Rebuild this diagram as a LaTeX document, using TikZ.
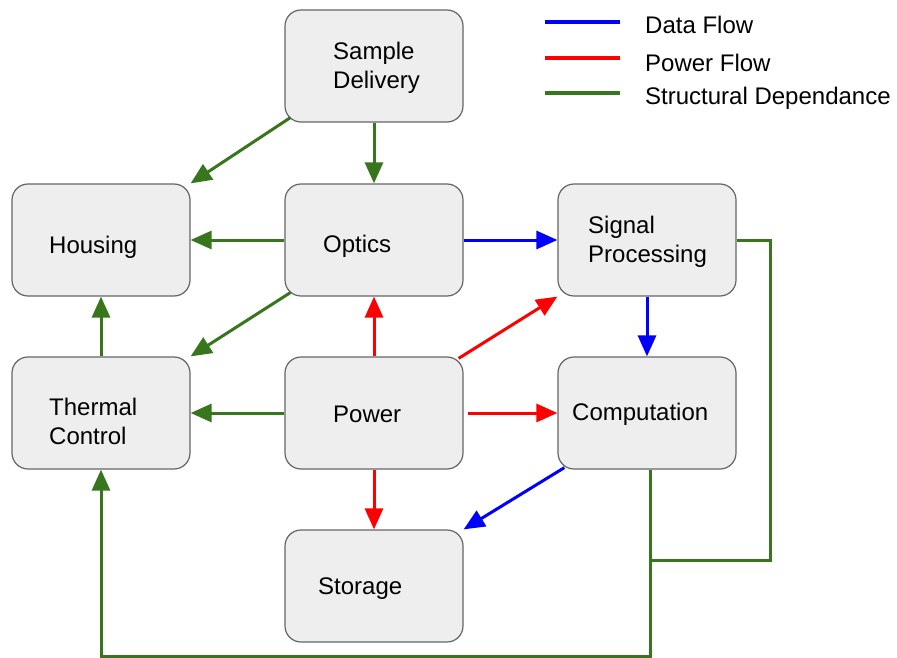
\documentclass[tikz,border=0pt]{standalone}
\usepackage{fontspec}
\setmainfont{Liberation Sans}
\usetikzlibrary{arrows.meta}
\definecolor{gfill}{HTML}{EEEEEE}
\definecolor{gedge}{HTML}{666666}
\definecolor{dgreen}{HTML}{38761D}
\definecolor{dblue}{HTML}{0000FF}
\definecolor{dred}{HTML}{FF0000}
\tikzset{
  box/.style={draw=gedge, fill=gfill, line width=1.2pt, rounded corners=16pt, minimum width=178pt, minimum height=112pt, inner sep=0pt},
  lbl/.style={anchor=west, align=left, inner sep=0pt, font=\fontsize{24}{29}\selectfont},
  conn/.style={line width=3pt, -{Triangle[length=21pt,width=18pt]}},
  dflow/.style={conn, draw=dblue},
  pflow/.style={conn, draw=dred},
  sflow/.style={conn, draw=dgreen},
  leg/.style={line width=3.5pt},
}
\begin{document}
\begin{tikzpicture}[x=1pt,y=-1pt]
\useasboundingbox (0,0) rectangle (897,658);
% boxes
\node[box] (sd) at (374,66) {};
\node[box] (hou) at (101,240) {};
\node[box] (opt) at (374,240) {};
\node[box] (sp) at (647,240) {};
\node[box] (tc) at (101,413) {};
\node[box] (pow) at (374,413) {};
\node[box] (comp) at (647,413) {};
\node[box] (sto) at (374,586) {};
% labels
\node[lbl] (sdt) at (333,68) {Sample\\Delivery};
\node[lbl] (hout) at (49,247) {Housing};
\node[lbl] (optt) at (323,246) {Optics};
\node[lbl] (spt) at (588,242) {Signal\\Processing};
\node[lbl] (tct) at (49,421) {Thermal\\Control};
\node[lbl] (powt) at (333,414) {Power};
\node[lbl] (compt) at (572,414) {Computation};
\node[lbl] (stot) at (318,589) {Storage};
% legend
\coordinate (l1a) at (545,22); \coordinate (l1b) at (620,22);
\coordinate (l2a) at (545,58); \coordinate (l2b) at (620,58);
\coordinate (l3a) at (545,93); \coordinate (l3b) at (620,93);
\draw[leg, dblue] (l1a) -- (l1b);
\draw[leg, dred] (l2a) -- (l2b);
\draw[leg, dgreen] (l3a) -- (l3b);
\node[lbl] (lt1) at (645,25) {Data Flow};
\node[lbl] (lt2) at (645,63) {Power Flow};
\node[lbl] (lt3) at (645,98) {Structural Dependance};
% structural
\draw[sflow] (sd.south west) ++(6,-5) -- (hou.north east);
\draw[sflow] (sd.south) -- (opt.north);
\draw[sflow] (opt.west) -- (hou.east);
\draw[sflow] (opt.south west) ++(6,-4) -- (tc.north east);
\draw[sflow] (pow.west) -- (tc.east);
\draw[sflow] (tc.north) -- (hou.south);
% data
\draw[dflow] (opt.east) -- (sp.west);
\draw[dflow] (sp.south) -- (comp.north);
\draw[dflow] (comp.south west) ++(7,-2) -- (sto.north east);
% power
\draw[pflow] (pow.north) -- (opt.south);
\draw[pflow] (pow.north east) ++(-5,2) -- (sp.south west);
\draw[pflow] (pow.east) ++(4,0) -- (comp.west);
\draw[pflow] (pow.south) -- (sto.north);
% long structural routes
\coordinate (j1) at (770,240);
\coordinate (j2) at (770,560);
\coordinate (j3) at (650,560);
\coordinate (j4) at (650,656);
\coordinate (j5) at (101,656);
\draw[line width=3pt, dgreen] (sp.east) -- (j1) -- (j2) -- (j3);
\draw[sflow] (comp.south) ++(3,0) -- (j4) -- (j5) -- (tc.south);
\end{tikzpicture}
\end{document}
